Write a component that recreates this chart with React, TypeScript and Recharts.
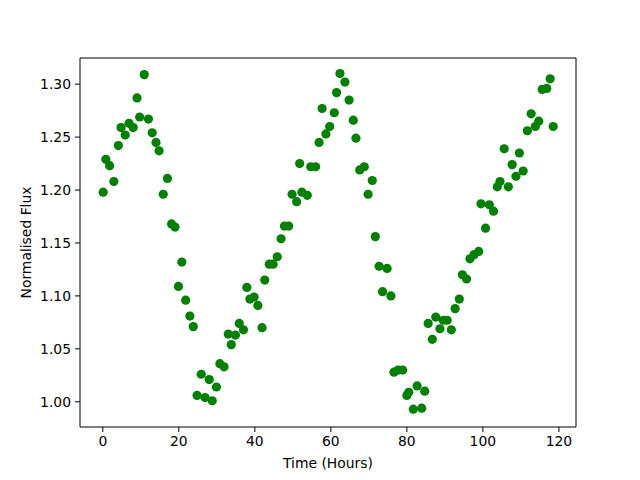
import { ScatterChart, Scatter, XAxis, YAxis, ReferenceLine } from "recharts";

// time in hours of each observation
const hours = [
  0.1, 0.8, 1.8, 2.9, 4.1, 4.8, 5.9, 6.9, 8.0, 9.0,
  9.7, 10.9, 12.0, 13.0, 14.0, 14.8, 15.9, 17.0, 18.1, 19.0,
  19.9, 20.8, 21.8, 22.9, 23.8, 24.8, 25.9, 26.9, 28.0, 28.8,
  29.9, 30.8, 31.9, 33.0, 33.8, 34.9, 35.9, 37.0, 37.9, 38.7,
  39.8, 40.8, 41.9, 42.6, 43.8, 44.8, 45.9, 46.9, 47.8, 48.9,
  49.8, 51.0, 51.8, 52.4, 53.8, 54.7, 56.0, 56.9, 57.7, 58.7,
  59.7, 60.9, 61.5, 62.4, 63.7, 64.8, 65.9, 66.6, 67.6, 68.8,
  69.8, 70.9, 71.7, 72.7, 73.6, 74.8, 75.8, 76.6, 77.7, 78.9,
  80.0, 80.5, 81.7, 82.7, 83.9, 84.7, 85.6, 86.7, 87.6, 88.7,
  89.6, 90.6, 91.7, 92.7, 93.8, 94.6, 95.7, 96.6, 97.7, 98.9,
  99.5, 100.7, 101.7, 102.8, 103.8, 104.5, 105.6, 106.7, 107.7, 108.7,
  109.6, 110.6, 111.7, 112.7, 113.8, 114.7, 115.6, 116.8, 117.7, 118.5,
];

// normalised flux values
const flux = [
  1.198, 1.229, 1.223, 1.208, 1.242, 1.259, 1.252, 1.263, 1.259, 1.287,
  1.269, 1.309, 1.267, 1.254, 1.245, 1.237, 1.196, 1.211, 1.168, 1.165,
  1.109, 1.132, 1.096, 1.081, 1.071, 1.006, 1.026, 1.004, 1.021, 1.001,
  1.014, 1.036, 1.033, 1.064, 1.054, 1.063, 1.074, 1.068, 1.108, 1.097,
  1.099, 1.091, 1.070, 1.115, 1.130, 1.130, 1.137, 1.154, 1.166, 1.166,
  1.196, 1.189, 1.225, 1.198, 1.195, 1.222, 1.222, 1.245, 1.277, 1.253,
  1.260, 1.273, 1.292, 1.310, 1.302, 1.285, 1.266, 1.249, 1.219, 1.222,
  1.196, 1.209, 1.156, 1.128, 1.104, 1.126, 1.100, 1.028, 1.030, 1.030,
  1.006, 1.009, 0.993, 1.015, 0.994, 1.010, 1.074, 1.059, 1.080, 1.069,
  1.077, 1.077, 1.068, 1.088, 1.097, 1.120, 1.116, 1.135, 1.139, 1.142,
  1.187, 1.164, 1.186, 1.180, 1.203, 1.208, 1.239, 1.203, 1.224, 1.213,
  1.235, 1.218, 1.256, 1.272, 1.260, 1.265, 1.295, 1.296, 1.305, 1.260,
];

const xTicks = [0, 20, 40, 60, 80, 100, 120];
const yTicks = [1.0, 1.05, 1.1, 1.15, 1.2, 1.25, 1.3];
const xDomain = [-6, 124.5];
const yDomain = [0.9762, 1.3247];

const data = hours.map((h, i) => ({ time: h, flux: flux[i] }));

const font = { fontFamily: "DejaVu Sans", fontSize: 13.9, fill: "#000" };

const Dot = (props: any) => <circle cx={props.cx} cy={props.cy} r={4.6} fill="#008000" />;

const App = () => {
  return (
    <div style={{ position: "absolute", left: 0, top: 0, background: "#fff" }}>
      <ScatterChart width={640} height={480} margin={{ top: 58, right: 64, bottom: 0, left: 0 }}>
        <XAxis
          dataKey="time"
          type="number"
          domain={xDomain}
          ticks={xTicks}
          height={53}
          stroke="#000"
          tickSize={5}
          tickMargin={4}
          tick={font}
          allowDataOverflow
          label={{ value: "Time (Hours)", position: "center", dy: 10, style: font }}
        />
        <YAxis
          dataKey="flux"
          type="number"
          domain={yDomain}
          ticks={yTicks}
          width={80}
          stroke="#000"
          tickSize={5}
          tickMargin={4}
          tick={font}
          allowDataOverflow
          tickFormatter={(v: number) => v.toFixed(2)}
          label={{ value: "Normalised Flux", angle: -90, position: "center", dx: -14, style: { ...font, textAnchor: "middle" } }}
        />
        {/* top and right spines */}
        <ReferenceLine y={yDomain[1]} stroke="#000" strokeWidth={1} />
        <ReferenceLine x={xDomain[1]} stroke="#000" strokeWidth={1} />
        <Scatter data={data} shape={<Dot />} isAnimationActive={false} />
      </ScatterChart>
    </div>
  );
};

export default App;
